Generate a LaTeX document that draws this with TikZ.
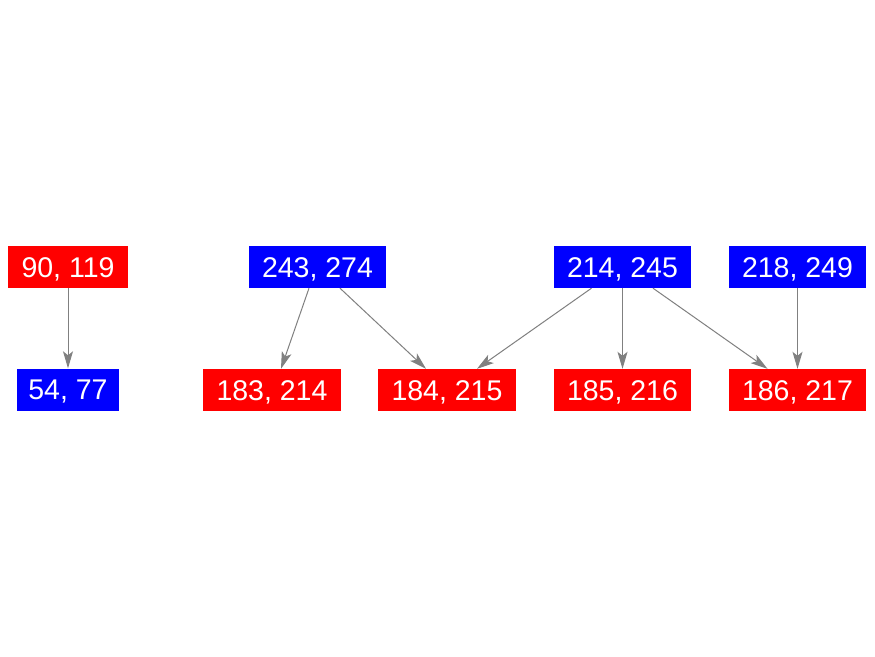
\documentclass[tikz,border=0pt]{standalone}
\usepackage{fontspec}
\setmainfont{Liberation Sans}
\usetikzlibrary{arrows.meta}
\tikzset{
  box/.style={inner sep=0pt, minimum height=42pt, text height=20.4pt, text depth=0pt, text=white, font=\fontsize{28.5}{30}\selectfont},
  redbox/.style={box, fill={rgb,255:red,255;green,0;blue,0}},
  bluebox/.style={box, fill={rgb,255:red,0;green,0;blue,255}},
  edge/.style={draw={rgb,255:red,128;green,128;blue,128}, line width=1pt,
    -{Stealth[length=17pt,width=10pt,inset=4pt]}}
}
\begin{document}
\begin{tikzpicture}[x=1pt,y=-1pt]
\useasboundingbox[fill=white] (0,0) rectangle (875,656);
\node[redbox, minimum width=120pt] (a) at (68,267) {90, 119};
\node[bluebox, minimum width=102pt] (b) at (68,389.5) {54, 77};
\node[bluebox, minimum width=137pt] (c) at (317.5,267) {243, 274};
\node[redbox, minimum width=138pt] (d) at (272,390) {183, 214};
\node[redbox, minimum width=138pt] (e) at (447,390) {184, 215};
\node[bluebox, minimum width=137pt] (f) at (622.5,267) {214, 245};
\node[redbox, minimum width=137pt] (g) at (622.5,390) {185, 216};
\node[redbox, minimum width=137pt] (h) at (797.5,390) {186, 217};
\node[bluebox, minimum width=137pt] (k) at (797.5,267) {218, 249};
\draw[edge] (a.south) -- (b.north);
\draw[edge] ([xshift=-8.5pt]c.south) -- ([xshift=9pt]d.north);
\draw[edge] ([xshift=22.5pt]c.south) -- ([xshift=-21pt]e.north);
\draw[edge] ([xshift=-31pt]f.south) -- ([xshift=30pt]e.north);
\draw[edge] (f.south) -- (g.north);
\draw[edge] ([xshift=30.5pt]f.south) -- ([xshift=-30pt]h.north);
\draw[edge] (k.south) -- (h.north);
\end{tikzpicture}
\end{document}
